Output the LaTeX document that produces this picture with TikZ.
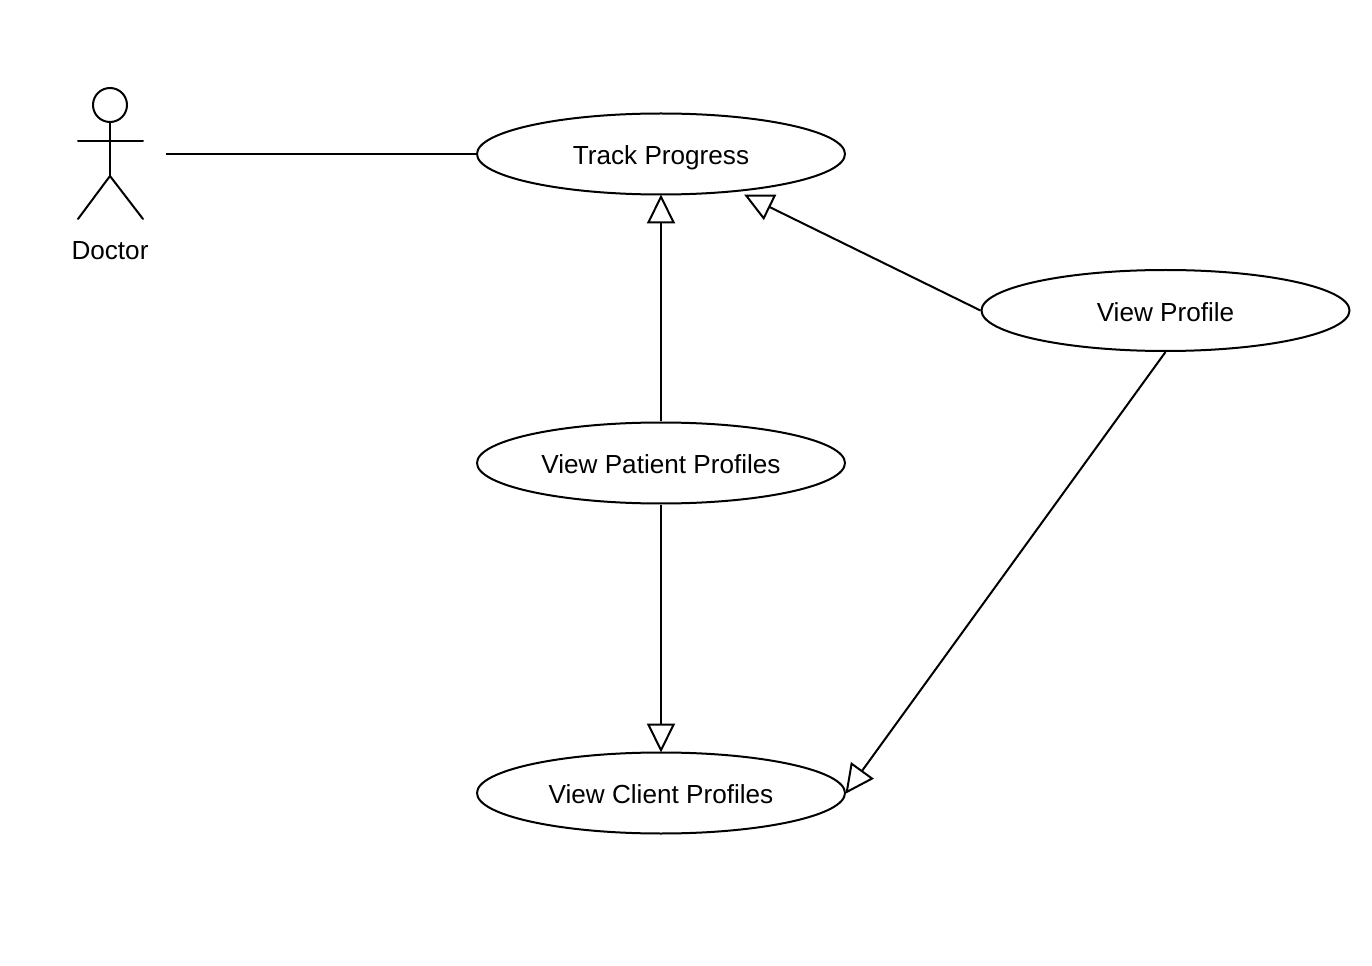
\documentclass[tikz,border=0pt]{standalone}
\usepackage{fontspec}
\setmainfont{Liberation Sans}
\usetikzlibrary{shapes.geometric, arrows.meta}

\begin{document}
\begin{tikzpicture}[
        x=0.75pt,y=-0.75pt,
        usecase/.style={ellipse,draw=black,line width=1.5pt,minimum width=276pt,minimum height=60.75pt,inner sep=0pt,text height=17pt,text depth=1pt,font=\fontsize{19.6}{24}\selectfont},
        label/.style={font=\fontsize{19.6}{24}\selectfont},
        inherit/.style={-{Triangle[open,length=21.75pt,width=21pt,line width=1.5pt]},line width=1.5pt,shorten >=-0.75pt},
        limb/.style={line width=1.5pt,line cap=round}
      ]
      \useasboundingbox (0,0) rectangle (1372,966);

      \node[usecase] (track) at (661,154) {Track Progress};
      \node[usecase] (patient) at (661,463) {View Patient Profiles};
      \node[usecase] (client) at (661,793) {View Client Profiles};
      \node[usecase] (profile) at (1165.5,310.5) {View Profile};

      % actor
      \node[circle,draw=black,line width=1.5pt,minimum size=25.5pt,inner sep=0pt] (head) at (110,105) {};
      \coordinate (hip) at (110,176);
      \coordinate (handl) at (78,141);
      \coordinate (handr) at (143,141);
      \coordinate (footl) at (78,219);
      \coordinate (footr) at (143,219);
      \draw[limb] (head.south) -- (hip);
      \draw[limb] (handl) -- (handr);
      \draw[limb] (footl) -- (hip) -- (footr);
      \node[label] (doctor) at (110,251) {Doctor};

      \coordinate (actorend) at (166,154);
      \draw[line width=1.5pt] (actorend) -- (track.west);
      \draw[inherit] (patient.north) -- (track.south);
      \draw[inherit] (patient.south) -- (client.north);
      \draw[inherit] (profile.west) -- (745,195);
      \draw[inherit] (profile.south) -- (client.east);

    \end{tikzpicture}
\end{document}
